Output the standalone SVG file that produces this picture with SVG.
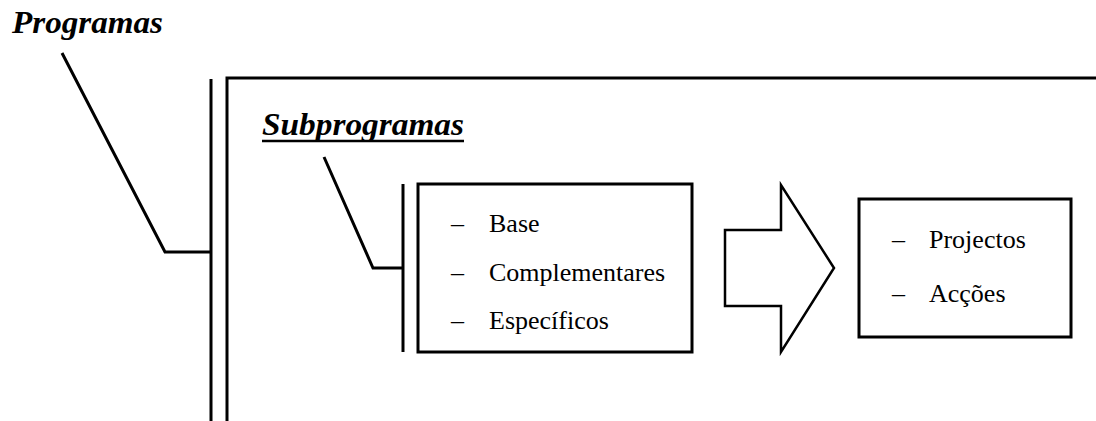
<svg xmlns="http://www.w3.org/2000/svg" width="1096" height="421" viewBox="0 0 1096 421">
  <style>
    .ln { fill: none; stroke: #000; stroke-width: 3; stroke-linejoin: miter; }
    .box { fill: #fff; stroke: #000; stroke-width: 3; }
    .head { font-family: "Liberation Serif", "DejaVu Serif", serif; font-weight: bold; font-style: italic; font-size: 31px; fill: #000; }
    .item { font-family: "Liberation Serif", "DejaVu Serif", serif; font-weight: normal; font-style: normal; font-size: 26px; fill: #000; }
  </style>
  <rect width="1096" height="421" fill="#fff"/>

  <!-- Programas heading -->
  <g id="programas">
    <text class="head" x="12" y="33" textLength="151" lengthAdjust="spacingAndGlyphs">Programas</text>
  </g>

  <!-- outer frame: bracket bar plus open box -->
  <g id="frame">
    <line class="ln" x1="211" y1="79" x2="211" y2="421"/>
    <polyline class="ln" points="227,421 227,78 1096,78"/>
  </g>

  <!-- Subprogramas heading -->
  <g id="subprogramas">
    <text class="head" x="262" y="135" textLength="202" lengthAdjust="spacingAndGlyphs">Subprogramas</text>
    <line x1="262" y1="141" x2="464" y2="141" stroke="#000" stroke-width="2.5"/>
  </g>

  <!-- subprogram types box with bracket bar -->
  <g id="tipos">
    <line class="ln" x1="403" y1="184" x2="403" y2="352"/>
    <rect class="box" x="418" y="184" width="274" height="168"/>
    <text class="item" x="451" y="232">–</text>
    <text class="item" x="489" y="232">Base</text>
    <text class="item" x="451" y="281">–</text>
    <text class="item" x="489" y="281">Complementares</text>
    <text class="item" x="451" y="329">–</text>
    <text class="item" x="489" y="329">Específicos</text>
  </g>

  <!-- block arrow -->
  <g id="seta">
    <polygon points="725,230 781,230 781,185 834,268 781,352 781,306 725,306" fill="#fff" stroke="#000" stroke-width="2.5" stroke-linejoin="miter"/>
  </g>

  <!-- outcomes box -->
  <g id="resultados">
    <rect class="box" x="859" y="199" width="212" height="138"/>
    <text class="item" x="892" y="248">–</text>
    <text class="item" x="929" y="248">Projectos</text>
    <text class="item" x="892" y="302">–</text>
    <text class="item" x="929" y="302">Acções</text>
  </g>

  <!-- leader connectors -->
  <g id="connectors">
    <polyline class="ln" points="62,53 165,252 211,252"/>
    <polyline class="ln" points="324,157 373,268 403,268"/>
  </g>
</svg>
